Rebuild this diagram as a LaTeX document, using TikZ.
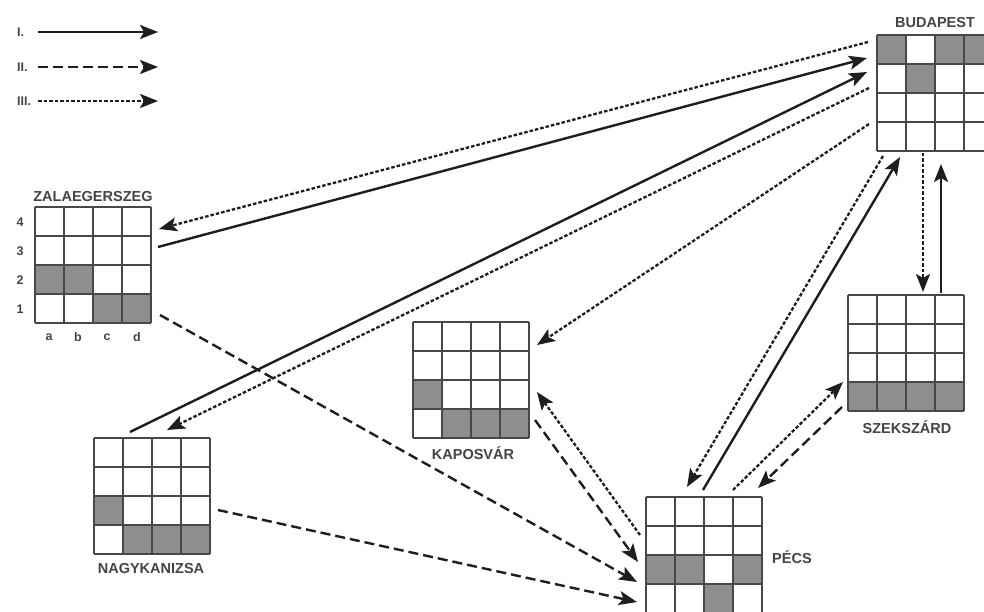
\documentclass[tikz,border=0pt]{standalone}
\usepackage{fontspec}
\setmainfont{Liberation Sans}
\usetikzlibrary{arrows.meta}
\definecolor{ink}{HTML}{1E1E1E}
\definecolor{cellgray}{HTML}{8E8E8E}
\definecolor{gridgray}{HTML}{484848}
\definecolor{txt}{HTML}{444444}
\newcommand\citygrid[4]{%
  \foreach \c/\r in {#4} {\fill[cellgray] ({#2+(\c-1)*29},{#3+(\r-1)*29}) rectangle ++(29,29);}
  \foreach \i in {0,...,4} {%
    \draw[gridline] ({#2+\i*29},#3) -- ++(0,116);
    \draw[gridline] (#2,{#3+\i*29}) -- ++(116,0);}
  \node[gridnode] (#1) at ({#2+58},{#3+58}) {};
}
\begin{document}
\begin{tikzpicture}[x=1pt,y=-1pt,
  gridline/.style={draw=gridgray,line width=1.5pt},
  gridnode/.style={minimum size=116pt,inner sep=0pt},
  city/.style={font=\fontsize{14.5}{16}\selectfont\bfseries,text=txt,inner sep=0pt},
  axislbl/.style={font=\fontsize{12.5}{14}\selectfont\bfseries,text=txt,inner sep=0pt},
  leglbl/.style={font=\fontsize{12.5}{14}\selectfont\bfseries,text=txt,inner sep=0pt,anchor=west},
  tip/.style={-{Stealth[length=18pt,width=14pt,inset=4pt]}},
  sol/.style={tip,draw=ink,line width=2.4pt},
  dsh/.style={tip,draw=ink,line width=2.4pt,dash pattern=on 10pt off 5pt},
  dot/.style={tip,draw=ink,line width=2.3pt,dash pattern=on 3.5pt off 2pt}]
\useasboundingbox (0,0) rectangle (984,612);
\clip (0,0) rectangle (984,612);
\fill[white] (0,0) rectangle (984,612);

% legend
\node[leglbl] (lI) at (17,32) {I.};
\node[leglbl] (lII) at (17,67) {II.};
\node[leglbl] (lIII) at (17,101) {III.};
\coordinate (l1a) at (38,32); \coordinate (l1b) at (158,32);
\coordinate (l2a) at (38,67); \coordinate (l2b) at (158,67);
\coordinate (l3a) at (38,101); \coordinate (l3b) at (158,101);
\draw[sol] (l1a) -- (l1b);
\draw[dsh] (l2a) -- (l2b);
\draw[dot] (l3a) -- (l3b);

% grids
\citygrid{bud}{877}{35}{1/1,3/1,4/1,2/2}
\citygrid{zal}{35}{207}{1/3,2/3,3/4,4/4}
\citygrid{kap}{413}{322}{1/3,2/4,3/4,4/4}
\citygrid{nag}{94}{438}{1/3,2/4,3/4,4/4}
\citygrid{sze}{848}{295}{1/4,2/4,3/4,4/4}
\citygrid{pec}{646}{497}{1/3,2/3,4/3,3/4}

% city labels
\node[city] (budL) at (935,23) {BUDAPEST};
\node[city] (zalL) at (93,197) {ZALAEGERSZEG};
\node[city] (kapL) at (473,453) {KAPOSVÁR};
\node[city] (nagL) at (151,569) {NAGYKANIZSA};
\node[city] (szeL) at (907,427) {SZEKSZÁRD};
\node[city,anchor=west] (pecL) at (772,557) {PÉCS};

% axis labels
\node[axislbl] (r4) at (20,222) {4};
\node[axislbl] (r3) at (20,251) {3};
\node[axislbl] (r2) at (20,280) {2};
\node[axislbl] (r1) at (20,309) {1};
\node[axislbl] (ca) at (49,337) {a};
\node[axislbl] (cb) at (78,337) {b};
\node[axislbl] (cc) at (107,337) {c};
\node[axislbl] (cd) at (137,337) {d};

% connector end points
\coordinate (bud1) at (868,42);   \coordinate (zal1) at (159,229);
\coordinate (zal2) at (158,247);  \coordinate (bud2) at (867,58);
\coordinate (nag3) at (130,432);  \coordinate (bud3) at (867,72);
\coordinate (bud4) at (869,88);   \coordinate (nag4) at (167,430);
\coordinate (bud5) at (869,124);  \coordinate (kap5) at (537,345);
\coordinate (zal6) at (160,315);  \coordinate (pec6) at (637,582);
\coordinate (nag7) at (218,510);  \coordinate (pec7) at (637,602);
\coordinate (pec8) at (640,535);  \coordinate (kap8) at (537,392);
\coordinate (kap9) at (535,420);  \coordinate (pec9) at (638,562);
\coordinate (bud10) at (883,156); \coordinate (pec10) at (687,487);
\coordinate (pec11) at (703,490); \coordinate (bud11) at (900,157);
\coordinate (bud12) at (923,153); \coordinate (sze12) at (923,292);
\coordinate (sze13) at (941,293); \coordinate (bud13) at (941,164);
\coordinate (pec14) at (733,490); \coordinate (sze14) at (843,382);
\coordinate (sze15) at (842,407); \coordinate (pec15) at (758,488);

% connectors
\draw[dot] (bud1) -- (zal1);
\draw[sol] (zal2) -- (bud2);
\draw[sol] (nag3) -- (bud3);
\draw[dot] (bud4) -- (nag4);
\draw[dot] (bud5) -- (kap5);
\draw[dsh] (zal6) -- (pec6);
\draw[dsh] (nag7) -- (pec7);
\draw[dot] (pec8) -- (kap8);
\draw[dsh] (kap9) -- (pec9);
\draw[dot] (bud10) -- (pec10);
\draw[sol] (pec11) -- (bud11);
\draw[dot] (bud12) -- (sze12);
\draw[sol] (sze13) -- (bud13);
\draw[dot] (pec14) -- (sze14);
\draw[dsh] (sze15) -- (pec15);
\end{tikzpicture}
\end{document}
